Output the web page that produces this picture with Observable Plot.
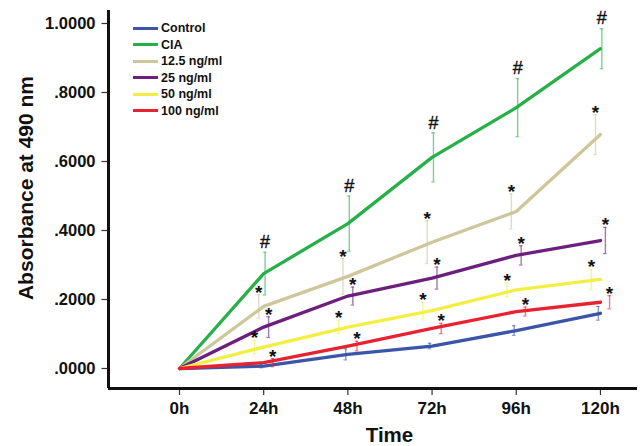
<!DOCTYPE html>
<html><head><meta charset="utf-8">
<script src="https://cdn.jsdelivr.net/npm/d3@7"></script>
<script src="https://cdn.jsdelivr.net/npm/@observablehq/plot@0.6"></script>
<style>
body{margin:0;background:#fff;}
#wrap{position:relative;width:641px;height:446px;font-family:"Liberation Sans",Arial,sans-serif;}
#wrap svg{position:absolute;left:0;top:0;}
#legend{position:absolute;left:133px;top:20px;z-index:2;}
.row{display:flex;align-items:center;height:16.5px;font-weight:bold;font-size:12.5px;color:#111;white-space:nowrap;}
.sw{width:25px;height:3px;margin-right:3px;}
</style></head><body><div id="wrap"><div id="legend"></div></div>
<script>
// ---- data ----
const times = [0, 24, 48, 72, 96, 120];
const timeLabels = ["0h", "24h", "48h", "72h", "96h", "120h"];
const seriesNames = ["Control", "CIA", "12.5 ng/ml", "25 ng/ml", "50 ng/ml", "100 ng/ml"];
const controlMean = [0, 0.007, 0.041, 0.065, 0.110, 0.160];
const controlErr  = [0, 0.005, 0.016, 0.008, 0.014, 0.020];
const ciaMean = [0, 0.275, 0.420, 0.612, 0.756, 0.927];
const ciaErr  = [0, 0.062, 0.080, 0.071, 0.084, 0.058];
const c12Mean = [0, 0.180, 0.267, 0.366, 0.455, 0.678];
const c12Err  = [0, 0.034, 0.052, 0.062, 0.051, 0.058];
const c25Mean = [0, 0.120, 0.210, 0.262, 0.328, 0.371];
const c25Err  = [0, 0.030, 0.026, 0.032, 0.028, 0.038];
const c50Mean = [0, 0.062, 0.120, 0.168, 0.228, 0.258];
const c50Err  = [0, 0.020, 0.020, 0.024, 0.020, 0.030];
const c100Mean = [0, 0.017, 0.065, 0.116, 0.165, 0.192];
const c100Err  = [0, 0.012, 0.014, 0.015, 0.013, 0.019];
const sigMarks = ["", "#", "*", "*", "*", "*"];
const yTicks = [0, 0.2, 0.4, 0.6, 0.8, 1.0];
const yTickLabels = [".0000", ".2000", ".4000", ".6000", ".8000", "1.0000"];

// ---- styling ----
const colors = ["#3b55a8", "#27b04a", "#cdc79b", "#6c1f7d", "#f3ef42", "#e8222f"];
const barOffsets = [-0.6, 0.4, -1.4, 1.4, -2.6, 2.6]; // hours, horizontal dodge of error bars
const means = [controlMean, ciaMean, c12Mean, c25Mean, c50Mean, c100Mean];
const errs = [controlErr, ciaErr, c12Err, c25Err, c50Err, c100Err];

const rows = [];
seriesNames.forEach((s, i) => times.forEach((t, j) => rows.push({
  series: s, t, v: means[i][j], e: errs[i][j], xb: t + barOffsets[i], mark: sigMarks[i]
})));
const bars = rows.filter(d => d.e > 0);
const caps = bars.flatMap(d => [{...d, y: d.v - d.e}, {...d, y: d.v + d.e}]);
const stars = bars.filter(d => d.mark === "*");
const hashes = bars.filter(d => d.mark === "#");

const xDomain = [-20.24, 130.56];
const yDomain = [-0.058, 1.0377];
const font = "'Liberation Sans', Arial, sans-serif";

const chart = Plot.plot({
  width: 641, height: 446,
  marginLeft: 108, marginRight: 4, marginTop: 10, marginBottom: 58,
  style: {fontFamily: font, background: "#fff", color: "#111"},
  x: {domain: xDomain, label: null},
  y: {domain: yDomain, label: null},
  color: {domain: seriesNames, range: colors},
  marks: [
    Plot.axisY(yTicks, {tickFormat: d => yTickLabels[yTicks.indexOf(d)], tickSize: 6.5, tickPadding: 6.5,
      fontSize: 16.5, fontWeight: "bold", stroke: "#333", strokeWidth: 1.2, label: null}),
    Plot.axisX(times, {tickFormat: d => timeLabels[times.indexOf(d)], tickSize: 7, tickPadding: 6.5,
      fontSize: 17, fontWeight: "bold", stroke: "#333", strokeWidth: 1.2, label: null}),
    Plot.ruleX([xDomain[0]], {stroke: "#111", strokeWidth: 3}),
    Plot.ruleY([yDomain[0]], {stroke: "#111", strokeWidth: 3}),
    Plot.line(rows, {x: "t", y: "v", z: "series", stroke: "series", strokeWidth: 3.3, strokeLinejoin: "round"}),
    Plot.ruleX(bars, {x: "xb", y1: d => d.v - d.e, y2: d => d.v + d.e, stroke: "series", strokeOpacity: 0.6, strokeWidth: 1.4}),
    Plot.ruleY(caps, {y: "y", x1: d => d.xb - 0.5, x2: d => d.xb + 0.5, stroke: "series", strokeOpacity: 0.6, strokeWidth: 1.2}),
    Plot.text(stars, {x: "xb", y: d => d.v + d.e, text: "mark", dy: -2, fontSize: 19, fontWeight: "bold", fill: "#111"}),
    Plot.text(hashes, {x: "xb", y: d => d.v + d.e, text: "mark", dy: -10, fontSize: 18, fill: "#111", stroke: "#111", strokeWidth: 0.4}),
    Plot.text(["Absorbance at 490 nm"], {frameAnchor: "left", textAnchor: "middle", lineAnchor: "middle", rotate: -90, dx: -82, dy: -11.5, fontSize: 21, fontWeight: "bold", fill: "#111"}),
    Plot.text(["Time"], {frameAnchor: "bottom", textAnchor: "middle", lineAnchor: "middle", dx: 16.5, dy: 46.5, fontSize: 20.5, fontWeight: "bold", fill: "#111"})
  ]
});
const wrap = document.getElementById("wrap");
wrap.appendChild(chart);
const legend = document.getElementById("legend");
seriesNames.forEach((s, i) => {
  const r = document.createElement("div"); r.className = "row";
  const sw = document.createElement("span"); sw.className = "sw"; sw.style.background = colors[i];
  const tx = document.createElement("span"); tx.textContent = s;
  r.appendChild(sw); r.appendChild(tx); legend.appendChild(r);
});
</script></body></html>
